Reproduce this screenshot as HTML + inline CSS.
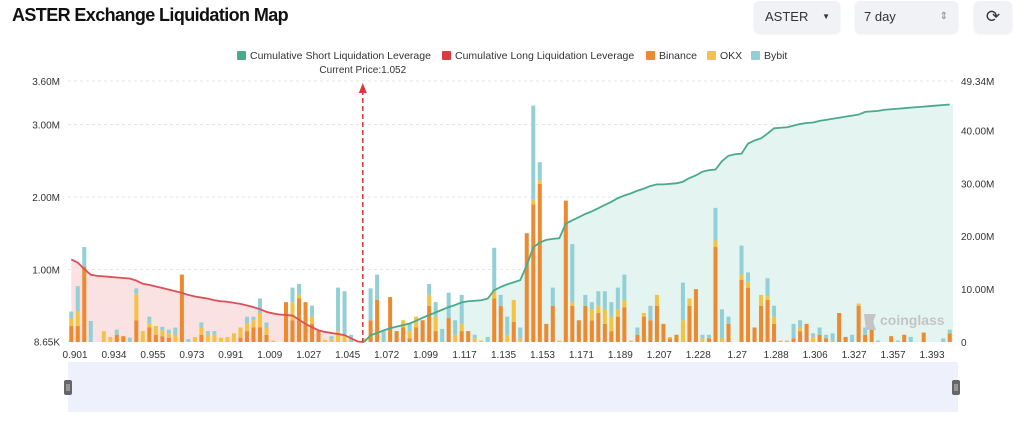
<!DOCTYPE html>
<html><head><meta charset="utf-8"><style>
body{margin:0;background:#fff;font-family:"Liberation Sans Narrow","Liberation Sans",sans-serif;}
#wrap{position:relative;width:1024px;height:421px;overflow:hidden;background:#fff}
.title{position:absolute;left:12px;top:5px;font:bold 18px "Liberation Sans",sans-serif;letter-spacing:-0.6px;color:#111}
.ctl{position:absolute;top:1px;height:32px;background:#f1f2f5;border-radius:5px;font-size:13px;color:#333;line-height:32px;box-shadow:0 1px 2px rgba(0,0,0,.08)}
</style></head><body>
<div id="wrap">
<div class="title">ASTER Exchange Liquidation Map</div>
<div class="ctl" style="left:754px;width:86px"><span style="margin-left:11px">ASTER</span><span style="position:absolute;right:10px;font-size:8px">▼</span></div>
<div class="ctl" style="left:855px;width:103px"><span style="margin-left:9px">7 day</span><span style="position:absolute;right:10px;font-size:10px;color:#888">⇕</span></div>
<div class="ctl" style="left:974px;width:38px;text-align:center;font-size:17px">⟳</div>
<svg id="chart" width="1024" height="421" style="position:absolute;left:0;top:0"></svg>
</div>
<script>
const binance=[.22,.22,1.04,0,0,0,0,.1,.08,0,.3,0,.2,.1,.08,.06,0,.93,0,0,.1,0,0,0,0,0,.06,.15,.2,.2,.1,0,0,.55,.3,.6,.55,.25,.15,0,0,0,0,0,0,
0,.3,.58,0,.62,.15,.2,.05,.2,.3,.5,.15,0,.33,0,.15,.15,0,0,0,.6,.5,0,.28,0,1.5,1.9,2.18,.25,.5,0,1.95,.5,.3,.5,.3,.4,.25,.15,.35,.48,0,.1,.35,.3,.5,.25,
.05,.1,0,.5,.73,0,.05,1.31,0,.25,0,.86,.75,.2,.5,.58,.25,0,0,.05,.15,.25,0,.1,.05,0,.4,.07,0,.5,.1,.25,0,0,.08,0,.1,0,0,.13,0,0,0,.12];
const okx=[.11,.2,0,0,0,.15,.07,0,0,0,.36,.15,.05,.12,.08,.06,.1,0,0,.07,.1,.1,.1,.06,.07,.12,.14,.1,.1,.2,.1,.02,0,0,.25,.05,0,.1,0,.03,.03,.15,.1,0,0,
.05,0,0,0,0,0,.1,.1,.15,0,.15,.2,0,0,.1,.1,0,.05,.02,0,.1,0,.1,.3,.05,0,.06,.05,0,0,.02,0,.05,0,0,.15,.1,.2,.2,.1,.1,.02,0,.05,0,.15,0,
.02,0,.3,.1,0,.05,0,.09,.05,0,0,.07,.08,0,.15,.05,.1,.02,.02,0,.05,0,.07,0,0,.02,0,0,0,.03,0,.03,0,0,0,0,0,0,0,0,0,0,0,0];
const bybit=[.09,.35,.27,.29,0,0,0,.07,0,.06,.08,0,.1,0,.05,.05,.1,0,.04,0,.07,.05,.05,0,0,0,0,.1,.05,.2,.07,0,0,0,.2,.15,0,.15,0,0,.05,.6,.6,.1,0,
0,.44,.35,.15,0,0,0,.1,0,0,.15,.2,.18,.35,.2,.4,0,.05,0,.07,.6,.15,.25,0,.15,0,1.3,.25,0,.25,0,0,.8,0,.15,.1,.2,.25,.2,.3,.35,0,.1,0,.2,0,0,
0,0,.52,0,0,.05,.05,.45,.4,.1,0,.4,.13,0,0,.25,.15,0,0,.2,.1,0,.05,.1,.05,.1,0,0,.1,0,.1,0,.02,0,0,.02,0,.07,0,0,0,0,.05,.05];
const longCum=[15.6,15.0,13.8,12.7,12.5,12.4,12.3,12.2,12.1,12.0,11.6,11.0,10.8,10.5,10.2,9.9,9.6,9.3,8.9,8.6,8.4,8.2,7.9,7.7,7.6,7.4,7.2,6.9,6.6,6.2,5.7,5.4,5.2,5.1,5.0,4.2,3.4,2.8,2.2,1.9,1.7,1.5,1.3,0.7,0.1,0];
const shortCum=[0,1.3,1.7,2.2,2.6,2.9,3.2,3.5,4.0,4.6,5.1,5.6,6.1,6.6,7.0,7.5,7.7,7.8,7.9,8.2,9.8,10.4,10.9,11.3,11.7,14.5,17.9,18.8,19.3,19.5,19.6,22.4,23.0,23.6,24.2,24.7,25.3,25.9,26.5,27.2,27.7,28.1,28.6,29.0,29.5,29.8,29.8,29.9,30.0,30.3,31.0,31.5,32.2,32.5,32.6,34.2,35.2,35.5,35.6,37.5,38.1,38.5,39.4,40.4,40.5,40.6,40.9,41.2,41.4,41.5,41.8,42.0,42.2,42.4,42.6,42.8,43.0,43.5,43.6,43.7,43.9,44.0,44.1,44.2,44.3,44.4,44.5,44.6,44.7,44.8,44.9];
const shortStart=45;
const xTickLabels=["0.901","0.934","0.955","0.973","0.991","1.009","1.027","1.045","1.072","1.099","1.117","1.135","1.153","1.171","1.189","1.207","1.228","1.27","1.288","1.306","1.327","1.357","1.393"];
const leftTicks=[0.00865,1,2,3,3.6];
const leftTickLabels=["8.65K","1.00M","2.00M","3.00M","3.60M"];
const rightTicks=[0,10,20,30,40,49.34];
const rightTickLabels=["0","10.00M","20.00M","30.00M","40.00M","49.34M"];
const currentPriceIndex=44.8;

const NS="http://www.w3.org/2000/svg";
const svg=document.getElementById('chart');
const X0=68,X1=953,Y0=342,YT=81;
const N=binance.length;
const band=(X1-X0)/N;
const xb=i=>X0+band*(i+0.5);
const yl=v=>Y0-(Y0-YT)*v/3.6;
const yr=v=>Y0-(Y0-YT)*v/49.34;
function mk(t,a,p){const e=document.createElementNS(NS,t);for(const k in a)e.setAttribute(k,a[k]);(p||svg).appendChild(e);return e;}

leftTicks.forEach((v,i)=>{
 const g=mk('line',{x1:X0,x2:X1,y1:yl(v),y2:yl(v),stroke:'#e6e6e6','stroke-dasharray':'3,3'});
 
 
 const t=mk('text',{x:60,y:yl(v)+4,'text-anchor':'end','font-size':10,fill:'#333'});t.textContent=leftTickLabels[i];
 
 
});
rightTicks.forEach((v,i)=>{
 const t=mk('text',{x:961,y:yr(v)+4,'font-size':10,fill:'#333'});t.textContent=rightTickLabels[i];
 
 
});
let dL='M'+xb(0)+','+Y0;longCum.forEach((v,i)=>dL+=' L'+xb(i)+','+yr(v));dL+=' L'+xb(longCum.length-1)+','+Y0+'Z';
const aL=mk('path',{d:dL,fill:'#fbe2e2'});


let dS='M'+xb(shortStart)+','+Y0;shortCum.forEach((v,i)=>dS+=' L'+xb(shortStart+i)+','+yr(v));dS+=' L'+X1+','+yr(shortCum[shortCum.length-1])+' L'+X1+','+Y0+'Z';
const aS=mk('path',{d:dS,fill:'#e3f4f1'});


const bw=band*0.62;
for(let i=0;i<N;i++){
 let base=0;
 [[binance[i],'#ec8a2f','binance'],[okx[i],'#f4c343','okx'],[bybit[i],'#93d0d6','bybit']].forEach(([v,c,n])=>{
  if(v<=0)return;
  const r=mk('rect',{x:xb(i)-bw/2,y:yl(base+v),width:bw,height:yl(base)-yl(base+v),fill:c});
  
  
  base+=v;
 });
}
const lL=mk('polyline',{points:longCum.map((v,i)=>xb(i)+','+yr(v)).join(' '),fill:'none',stroke:'#dc5058','stroke-width':1.8});


const lS=mk('polyline',{points:shortCum.map((v,i)=>xb(shortStart+i)+','+yr(v)).join(' '),fill:'none',stroke:'#4aaa8c','stroke-width':1.8});


xTickLabels.forEach((s,i)=>{
 const x=75+(932-75)*i/(xTickLabels.length-1);
 const t=mk('text',{x:x,y:358,'text-anchor':'middle','font-size':10,fill:'#333'});t.textContent=s;
 
 
});
const cx=xb(currentPriceIndex);
const cl=mk('line',{x1:cx,x2:cx,y1:90,y2:Y0,stroke:'#d9363e','stroke-width':1.5,'stroke-dasharray':'5,3'});


const ca=mk('path',{d:`M${cx-4},93 L${cx},83 L${cx+4},93Z`,fill:'#d9363e'});


const ct=mk('text',{x:cx,y:73,'text-anchor':'middle','font-size':10,fill:'#333'});ct.textContent='Current Price:1.052';


const leg=[['Cumulative Short Liquidation Leverage','#4aaa8c',237],['Cumulative Long Liquidation Leverage','#dc3b45',442],['Binance','#ec8a2f',646],['OKX','#f4c343',707],['Bybit','#93d0d6',751]];
leg.forEach(([s,c,x])=>{
 const g=mk('g',{});
 
 
 mk('rect',{x:x,y:51,width:9,height:9,fill:c,rx:1},g);
 const t=mk('text',{x:x+13,y:59,'font-size':10.5,fill:'#333'},g);t.textContent=s;
});
const wm=mk('text',{x:880,y:325,'font-size':14,'font-weight':'bold',fill:'#c4c4c4'});wm.textContent='coinglass';


const wi=mk('path',{d:'M864,314 L876,314 L873,322 L876,330 L866,330Z',fill:'#c4c4c4'});


const dz=mk('rect',{x:68,y:362,width:890,height:50,fill:'#eef0fb'});


[68,956].forEach(x=>{
 const h=mk('rect',{x:x-4,y:380,width:8,height:15,rx:2,fill:'#666'});
 
 
 mk('line',{x1:x-1,x2:x-1,y1:384,y2:391,stroke:'#ddd','stroke-width':.8});
 mk('line',{x1:x+1,x2:x+1,y1:384,y2:391,stroke:'#ddd','stroke-width':.8});
});
</script>
</body></html>
